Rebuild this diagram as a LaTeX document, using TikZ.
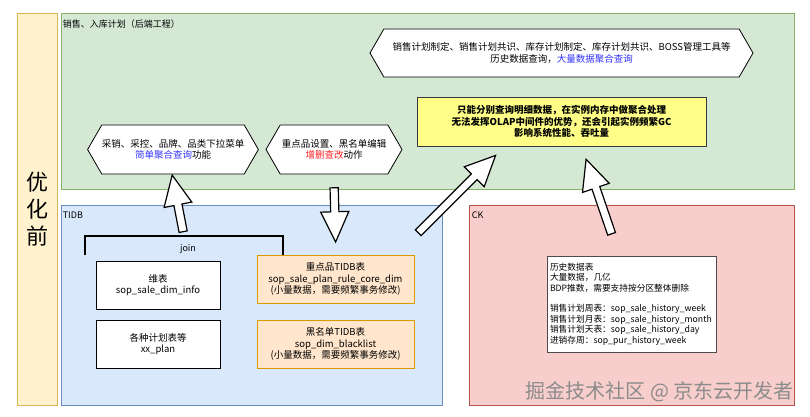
\documentclass[tikz,border=0pt]{standalone}
\usepackage{fontspec}
\setmainfont{Noto Sans CJK SC}
\usetikzlibrary{calc,shapes.symbols,shapes.arrows}
\definecolor{greenfill}{HTML}{D5E8D4}
\definecolor{greenline}{HTML}{82B366}
\definecolor{bluefill}{HTML}{DAE8FC}
\definecolor{blueline}{HTML}{6C8EBF}
\definecolor{redfill}{HTML}{F8CECC}
\definecolor{redline}{HTML}{B85450}
\definecolor{orangefill}{HTML}{FFE6CC}
\definecolor{orangeline}{HTML}{D79B00}
\definecolor{barfill}{HTML}{FFF2CC}
\definecolor{barline}{HTML}{D6B656}
\definecolor{notefill}{HTML}{FFFF88}
\definecolor{noteline}{HTML}{36393D}
\definecolor{qblue}{HTML}{3333FF}
\definecolor{qred}{HTML}{FF2222}

\tikzset{
  zone/.style={draw, line width=0.8pt, inner sep=0pt},
  txt/.style={font=\fontsize{9.5}{11.5}\selectfont},
  hexbox/.style={signal, signal to=west and east, signal pointer angle=120,
    draw, fill=white, line width=0.8pt, inner sep=0pt, align=center, txt},
  tablebox/.style={draw, line width=0.8pt, inner sep=0pt, minimum width=124,
    minimum height=48, align=center, txt},
  fatarr/.style={single arrow, draw, fill=white, line width=1.2pt,
    inner ysep=3.5pt, inner xsep=0pt, minimum width=0pt,
    single arrow head extend=10pt, single arrow tip angle=50},
}

% hollow block arrow from #1 to #2
\newcommand{\fatarrow}[2]{%
  \path let \p1=(#1), \p2=(#2),
    \n1={atan2(\y2-\y1,\x2-\x1)}, \n2={veclen(\x2-\x1,\y2-\y1)} in
    ($(\p1)!0.5!(\p2)$) node[fatarr, minimum height=\n2, rotate=\n1] {};}

\begin{document}
\begin{tikzpicture}[x=1pt,y=-1pt]
  \useasboundingbox (0,0) rectangle (810,417);

  % zones
  \node[zone, fill=barfill, draw=barline, minimum width=40, minimum height=392] (bar) at (37,209) {};
  \node[font=\fontsize{22}{27}\selectfont, align=center] at (bar) {优\\化\\前};
  \node[zone, fill=greenfill, draw=greenline, minimum width=733, minimum height=176] (sales) at (427.5,101) {};
  \node[zone, fill=bluefill, draw=blueline, minimum width=381, minimum height=200] (tidb) at (251.5,305) {};
  \node[zone, fill=redfill, draw=redline, minimum width=325, minimum height=200] (ck) at (631.5,305) {};
  \node[anchor=west, font=\fontsize{9}{11}\selectfont, inner sep=0pt] at ($(sales.north west)+(2,11)$) {销售、入库计划（后端工程）};
  \node[anchor=west, font=\fontsize{9}{11}\selectfont, inner sep=0pt] at ($(tidb.north west)+(2,11)$) {TIDB};
  \node[anchor=west, font=\fontsize{9}{11}\selectfont, inner sep=0pt] at ($(ck.north west)+(3,11)$) {CK};

  % front end
  \node[hexbox, minimum width=383, minimum height=48] (hexbig) at (561.5,53)
    {销售计划制定、销售计划共识、库存计划制定、库存计划共识、BOSS管理工具等\\历史数据查询，\textcolor{qblue}{大量数据聚合查询}};
  \node[hexbox, minimum width=170, minimum height=49] (hexsel) at (173,149.5)
    {采销、采控、品牌、品类下拉菜单\\\textcolor{qblue}{简单聚合查询}功能};
  \node[hexbox, minimum width=136, minimum height=49] (hexedit) at (334,149.5)
    {重点品设置、黑名单编辑\\\textcolor{qred}{增删查改}动作};
  \node[draw=noteline, fill=notefill, line width=0.8pt, minimum width=289, minimum height=49,
    align=center, txt, font=\bfseries\fontsize{9.5}{11.5}\selectfont] (olap) at (561.5,121.5)
    {只能分别查询明细数据，在实例内存中做聚合处理\\无法发挥OLAP中间件的优势，还会引起实例频繁GC\\影响系统性能、吞吐量};

  % TIDB tables
  \node[tablebox, fill=white] (dim) at (158,285) {维表\\sop\_sale\_dim\_info};
  \node[tablebox, fill=white] (plan) at (158,344) {各种计划表等\\xx\_plan};
  \node[tablebox, fill=orangefill, draw=orangeline, minimum width=157] (core) at (335.5,279)
    {重点品TIDB表\\sop\_sale\_plan\_rule\_core\_dim\\(小量数据，需要频繁事务修改)};
  \node[tablebox, fill=orangefill, draw=orangeline, minimum width=157] (black) at (335.5,344)
    {黑名单TIDB表\\sop\_dim\_blacklist\\(小量数据，需要频繁事务修改)};

  % join
  \coordinate (jl) at (85,236);
  \coordinate (jr) at (283,236);
  \coordinate (jtop) at ($(jl)!0.5!(jr)$);
  \draw[line width=1.5pt] ($(jl)+(0,19)$) -- (jl) -- (jr) -- ($(jr)+(0,19)$);
  \node[font=\fontsize{9}{11}\selectfont] (join) at (188,249) {join};

  % CK table
  \node[draw=black!70, fill=white, line width=0.8pt, minimum width=169, minimum height=96,
    text width=163, inner xsep=3pt, align=left, font=\fontsize{8.7}{10.4}\selectfont] (hist) at (631.5,304)
    {历史数据表\\大量数据，几亿\\BDP推数，需要支持按分区整体删除\\[10.4pt]
     销售计划周表：sop\_sale\_history\_week\\销售计划月表：sop\_sale\_history\_month\\
     销售计划天表：sop\_sale\_history\_day\\进销存周：sop\_pur\_history\_week};

  % arrows
  \coordinate (tdtail) at (415,236);
  \coordinate (cktail) at (613,238);
  \fatarrow{jtop}{$(hexsel.south)+(0,5)$}
  \fatarrow{$(hexedit.south)+(0,9)$}{$(core.north)+(0,-17)$}
  \fatarrow{tdtail}{$(olap.south west)+(76,12)$}
  \fatarrow{cktail}{$(olap.south)+(26,17)$}

  \node[anchor=east, inner sep=0pt, text=black!45, font=\fontsize{20}{20}\selectfont] (mark) at (794,392)
    {掘金技术社区 @ 京东云开发者};
\end{tikzpicture}
\end{document}
